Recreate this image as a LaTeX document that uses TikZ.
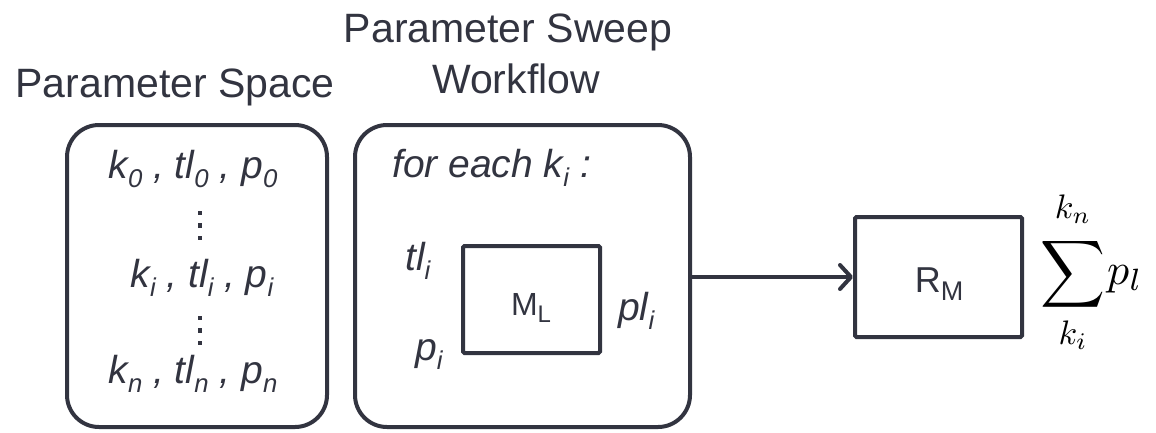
\documentclass[tikz,border=0pt]{standalone}
\usepackage{fontspec}
\setmainfont{Liberation Sans}
\usepackage{graphicx}
\usetikzlibrary{arrows.meta}

\definecolor{ink}{RGB}{50,52,64}

% lowered, shrunken index
\newcommand\lowered[2][0.66]{\raisebox{-0.24em}{\scalebox{#1}{#2}}}

\tikzset{
  frame/.style={draw=ink, line width=4pt, rounded corners=32pt},
  block/.style={draw=ink, line width=4pt, rounded corners=1.5pt},
  title/.style={font=\fontsize{41}{49}\selectfont, text=ink, anchor=base, inner sep=0pt},
  lbl/.style={font=\fontsize{39}{47}\selectfont\itshape, text=ink, anchor=base, inner sep=0pt},
  boxtext/.style={text=ink, anchor=base, inner sep=0pt},
  flow/.style={draw=ink, line width=4pt, -{Straight Barb[length=11pt,width=24pt,round]}},
  dot/.style={fill=ink},
  mathlbl/.style={text=black, inner sep=0pt},
}

\begin{document}
\begin{tikzpicture}[x=1pt, y=-1pt]
\useasboundingbox (0,0) rectangle (1156,432);

% titles
\node[title] (tspace) at (175,97) {Parameter Space};
\node[title] (tsweep) at (508,42) {Parameter Sweep};
\node[title] (tflow) at (516,93) {Workflow};

% containers
\node[frame, minimum width=260pt, minimum height=302pt] (space) at (197,276) {};
\node[frame, minimum width=335pt, minimum height=302pt] (sweep) at (522.5,276) {};

% parameter tuples
\node[lbl] (row0) at (193,178) {k\lowered{0} , tl\lowered{0} , p\lowered{0}};
\node[lbl] (rowi) at (202,287) {k\lowered{i} , tl\lowered{i} , p\lowered{i}};
\node[lbl] (rown) at (193,383) {k\lowered{n} , tl\lowered{n} , p\lowered{n}};
\foreach \y in {213,225.5,238,318,330.5,343}
  \fill[dot] (197.8,\y-2.2) rectangle ++(4.4,4.4);

% workflow body
\node[lbl, anchor=base west] (loop) at (392,177) {for each k\lowered{i} :};
\node[block, minimum width=137pt, minimum height=107pt] (ml) at (531.5,299.5) {};
\node[boxtext, font=\fontsize{32}{38}\selectfont] (mltext) at (531,315) {M\lowered[0.75]{L}};
\node[lbl, anchor=base west] (tlin) at (405,270) {tl\lowered{i}};
\node[lbl, anchor=base west] (pin) at (415,360) {p\lowered{i}};
\node[lbl, anchor=base west] (plout) at (618,320) {pl\lowered{i}};

% reducer
\node[block, minimum width=167pt, minimum height=120pt] (rm) at (938.5,277) {};
\node[boxtext, font=\fontsize{36}{42}\selectfont] (rmtext) at (939,292) {R\lowered[0.75]{M}};
\draw[flow] (sweep.east |- rm.west) -- (rm.west);

% aggregate (math set at 10pt and enlarged)
\node[mathlbl] (sig) at (1073,274) {\scalebox{4.5}[4.7]{$\displaystyle\sum$}};
\node[mathlbl, anchor=base] (upper) at (1073,218) {\scalebox{3.4}{$k_n$}};
\node[mathlbl, anchor=base] (lower) at (1073,344) {\scalebox{3.4}{$k_i$}};
\node[mathlbl, anchor=base west] (pl) at (1107,284) {\scalebox{4.4}{$p_l$}};
\end{tikzpicture}
\end{document}
